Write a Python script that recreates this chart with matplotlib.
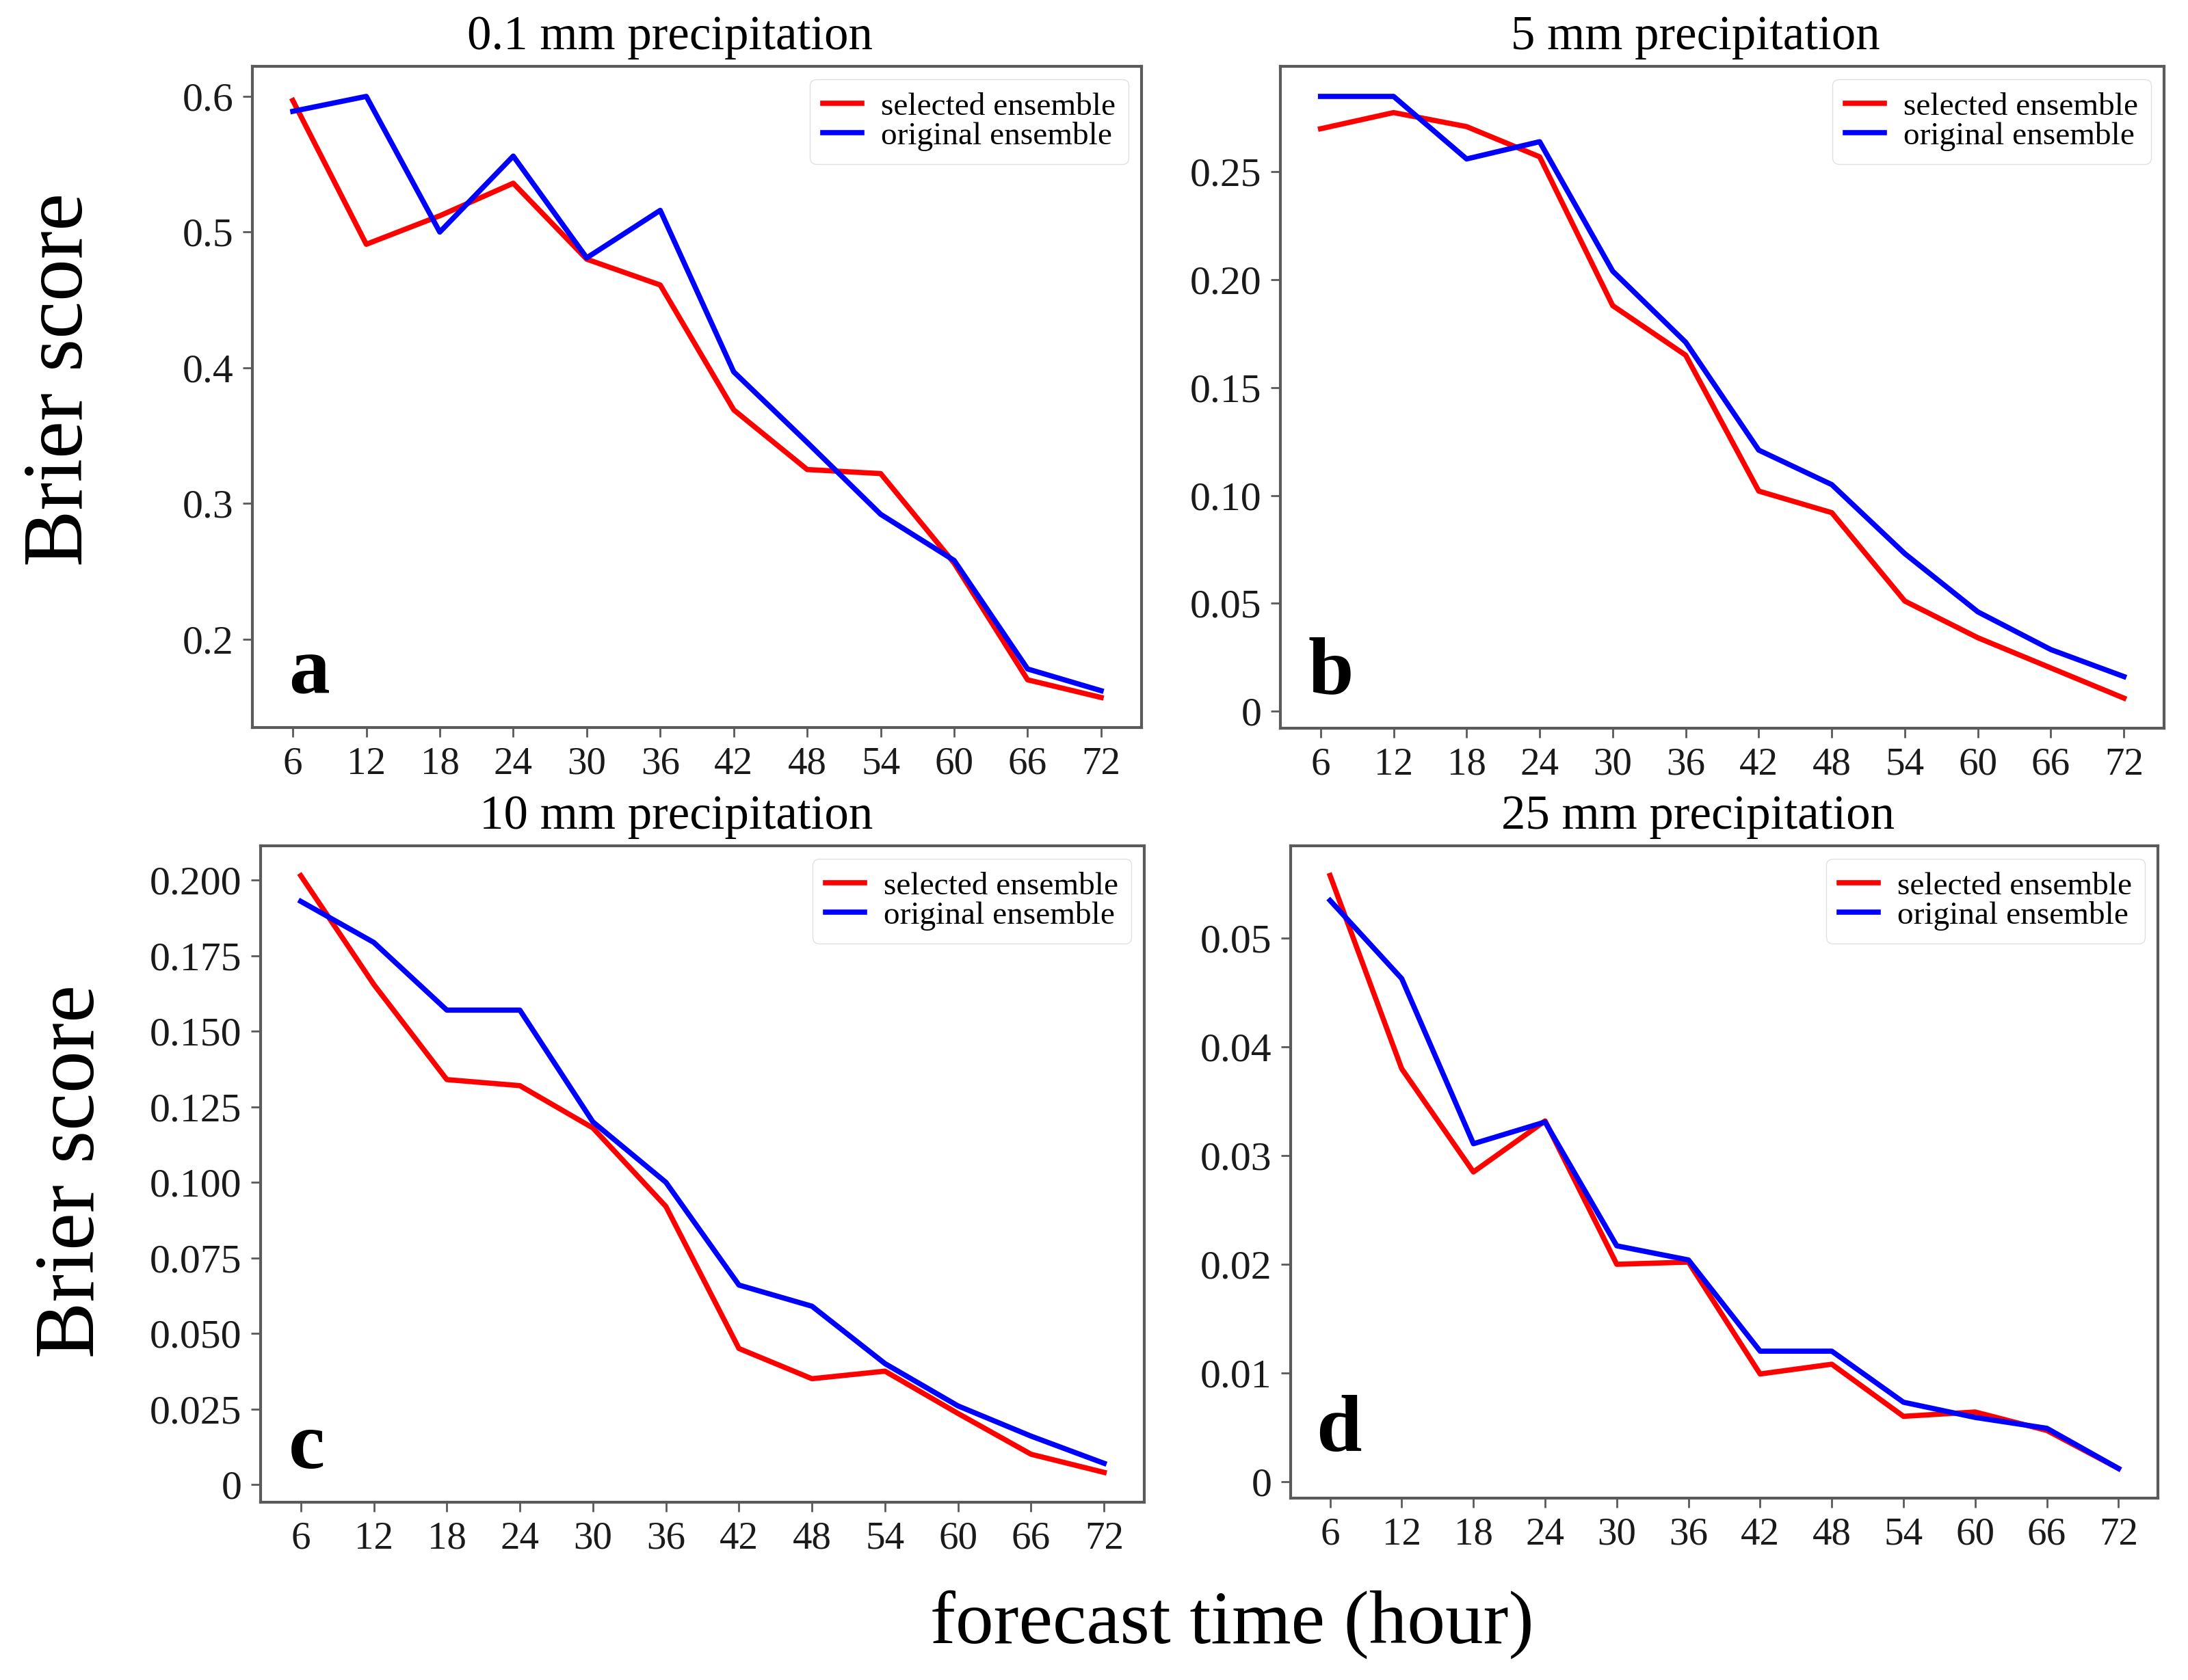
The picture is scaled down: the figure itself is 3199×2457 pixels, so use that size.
import matplotlib
matplotlib.use("Agg")
import matplotlib.pyplot as plt
from matplotlib.ticker import MultipleLocator, FuncFormatter

plt.rcParams['font.family'] = ['Liberation Serif', 'DejaVu Serif']

hours = [6, 12, 18, 24, 30, 36, 42, 48, 54, 60, 66, 72]

titles = ["0.1 mm precipitation", "5 mm precipitation",
          "10 mm precipitation", "25 mm precipitation"]
panel_letters = ["a", "b", "c", "d"]
series_names = ["selected ensemble", "original ensemble"]

sel_01 = [0.597, 0.491, 0.512, 0.536, 0.480, 0.461, 0.369, 0.325, 0.322, 0.256, 0.170, 0.157]
ori_01 = [0.589, 0.600, 0.500, 0.556, 0.481, 0.516, 0.397, 0.345, 0.292, 0.258, 0.178, 0.162]

sel_05 = [0.270, 0.2775, 0.271, 0.257, 0.188, 0.165, 0.102, 0.092, 0.051, 0.034, 0.020, 0.006]
ori_05 = [0.285, 0.285, 0.256, 0.264, 0.204, 0.171, 0.121, 0.105, 0.073, 0.046, 0.0285, 0.016]

sel_10 = [0.2015, 0.1655, 0.134, 0.132, 0.118, 0.092, 0.045, 0.035, 0.0375, 0.0235, 0.010, 0.004]
ori_10 = [0.193, 0.1794, 0.157, 0.157, 0.120, 0.100, 0.066, 0.059, 0.040, 0.026, 0.016, 0.007]

sel_25 = [0.0558, 0.038, 0.0285, 0.0332, 0.0200, 0.0202, 0.0099, 0.0108, 0.0060, 0.0064, 0.0047, 0.0012]
ori_25 = [0.0535, 0.0463, 0.0311, 0.0331, 0.0217, 0.0204, 0.0120, 0.0120, 0.0073, 0.0059, 0.0049, 0.0012]

selected = [sel_01, sel_05, sel_10, sel_25]
original = [ori_01, ori_05, ori_10, ori_25]
y_steps = [0.1, 0.05, 0.025, 0.01]
y_decimals = [1, 2, 3, 2]

W, H = 3199, 2457
fig = plt.figure(figsize=(W / 100, H / 100), dpi=100)

# axes rectangles in pixels: left, top, right, bottom
rects_px = [(369, 97, 1669, 1064), (1872, 97, 3164, 1065),
            (381, 1237, 1673, 2197), (1887, 1237, 3155, 2191)]
letter_pos = [(0.041, 0.052), (0.031, 0.053), (0.032, 0.052), (0.029, 0.072)]

spine_col = '#5a5a5a'
for i in range(4):
    l, t, r, b = rects_px[i]
    ax = fig.add_axes([l / W, 1 - b / H, (r - l) / W, (b - t) / H])
    ax.plot(hours, selected[i], color='#ff0000', lw=5.5, label=series_names[0])
    ax.plot(hours, original[i], color='#0000ff', lw=5.5, label=series_names[1])
    ax.set_xticks(hours)
    ax.yaxis.set_major_locator(MultipleLocator(y_steps[i]))
    d = y_decimals[i]
    ax.yaxis.set_major_formatter(FuncFormatter(
        lambda v, p, d=d: "0" if abs(v) < 1e-12 else f"{v:.{d}f}"))
    ax.tick_params(axis='both', length=10, width=2,
                   color=spine_col, labelcolor='#1a1a1a', pad=10)
    ax.tick_params(axis='x', labelsize=41)
    ax.tick_params(axis='y', labelsize=43)
    for s in ax.spines.values():
        s.set_color(spine_col)
        s.set_linewidth(3)
    ax.set_title(titles[i], fontsize=51, x=0.47, pad=18)
    leg = ax.legend(loc='upper right', fontsize=34, labelspacing=0.0,
                    handlelength=1.2, handletextpad=0.6, borderaxespad=0.4,
                    borderpad=0.4, fancybox=True, framealpha=0.8,
                    edgecolor='0.85')
    for ln in leg.get_lines():
        ln.set_linewidth(5.5)
    ax.text(letter_pos[i][0], letter_pos[i][1], panel_letters[i],
            transform=ax.transAxes, fontsize=86, fontweight='bold',
            ha='left', va='baseline')

fig.text(0.028, 0.774, "Brier score", rotation=90, fontsize=89,
         ha='center', va='center')
fig.text(0.0335, 0.303, "Brier score", rotation=90, fontsize=89,
         ha='center', va='center')
fig.text(0.563, 0.033, "forecast time (hour)", fontsize=80,
         ha='center', va='center')

fig.savefig("out.png", dpi=100, facecolor='white')
